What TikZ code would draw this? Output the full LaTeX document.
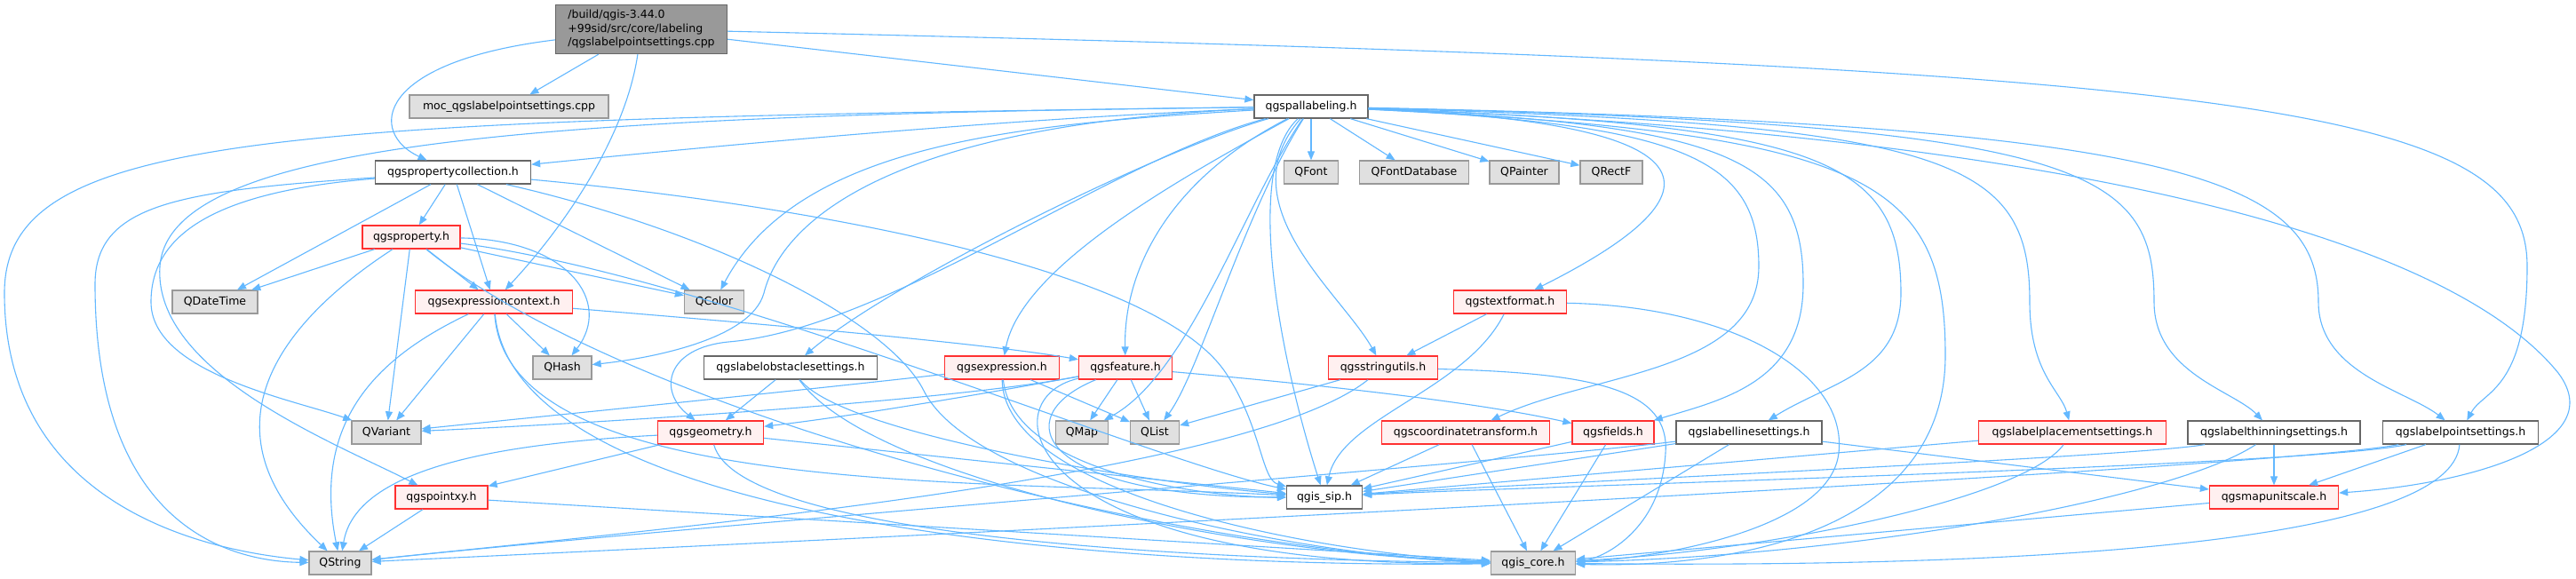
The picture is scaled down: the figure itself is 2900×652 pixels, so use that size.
\documentclass[tikz,border=0pt]{standalone}
\usepackage{fontspec}
\setmainfont{DejaVu Sans}
\usetikzlibrary{arrows.meta}
\definecolor{edgec}{HTML}{63B8FF}
\definecolor{extfill}{HTML}{E0E0E0}
\definecolor{extdraw}{HTML}{999999}
\definecolor{redfill}{HTML}{FFF0F0}
\definecolor{reddraw}{HTML}{FF3030}
\definecolor{normdraw}{HTML}{666666}
\definecolor{rootfill}{HTML}{999999}
\newcommand{\nodefont}{\fontsize{12.5}{15.5}\selectfont}
\begin{document}
\begin{tikzpicture}[x=1pt,y=-1pt,
  nbase/.style={rectangle, minimum height=26pt, inner sep=0pt, line width=1.3pt, font=\nodefont},
  nwhite/.style={nbase, draw=normdraw, fill=white},
  ngray/.style={nbase, draw=extdraw, fill=extfill},
  nred/.style={nbase, draw=reddraw, fill=redfill},
  rootbox/.style={nbase, draw=normdraw, fill=rootfill, align=left, minimum height=55pt},
  bw/.style={minimum width=#1pt},
  dep/.style={draw=edgec, line width=1.1pt, -{Triangle[length=10pt,width=8pt]}}
]
\fill[white] (0,0) rectangle (2900,652);
\useasboundingbox (0,0) rectangle (2900,652);

% nodes
\node[rootbox, bw=193] (root) at (722,33) {/build/qgis-3.44.0\\+99sid/src/core/labeling\\/qgslabelpointsettings.cpp};
\node[ngray, bw=224] (moc) at (573,120) {moc\_qgslabelpointsettings.cpp};
\node[nwhite, bw=128] (pal) at (1476,120) {qgspallabeling.h};
\node[nwhite, bw=175] (pc) at (510,194) {qgspropertycollection.h};
\node[ngray, bw=61] (QFont) at (1476,194) {QFont};
\node[ngray, bw=123] (QFontDB) at (1592,194) {QFontDatabase};
\node[ngray, bw=78] (QPainter) at (1716,194) {QPainter};
\node[ngray, bw=70] (QRectF) at (1814,194) {QRectF};
\node[nred, bw=110] (prop) at (463,267) {qgsproperty.h};
\node[ngray, bw=96] (QDateTime) at (242,340) {QDateTime};
\node[nred, bw=177] (ectx) at (556,340) {qgsexpressioncontext.h};
\node[ngray, bw=67] (QColor) at (804,340) {QColor};
\node[nred, bw=127] (tf) at (1700,340) {qgstextformat.h};
\node[ngray, bw=66] (QHash) at (633,414) {QHash};
\node[nwhite, bw=195] (obs) at (890,414) {qgslabelobstaclesettings.h};
\node[nred, bw=129] (expr) at (1128,414) {qgsexpression.h};
\node[nred, bw=105] (feat) at (1267,414) {qgsfeature.h};
\node[nred, bw=123] (su) at (1557,414) {qgsstringutils.h};
\node[ngray, bw=78] (QVariant) at (435,487) {QVariant};
\node[nred, bw=119] (geom) at (800,487) {qgsgeometry.h};
\node[ngray, bw=59] (QMap) at (1218,487) {QMap};
\node[ngray, bw=55] (QList) at (1300,487) {QList};
\node[nred, bw=189] (ct) at (1650,487) {qgscoordinatetransform.h};
\node[nred, bw=92] (fields) at (1816,487) {qgsfields.h};
\node[nwhite, bw=164] (ls) at (1969,487) {qgslabellinesettings.h};
\node[nred, bw=211] (lp) at (2333,487) {qgslabelplacementsettings.h};
\node[nwhite, bw=194] (lt) at (2560,487) {qgslabelthinningsettings.h};
\node[nwhite, bw=175] (lps) at (2770,487) {qgslabelpointsettings.h};
\node[nred, bw=104] (pxy) at (497,560) {qgspointxy.h};
\node[nwhite, bw=85] (sip) at (1491,560) {qgis\_sip.h};
\node[nred, bw=145] (mus) at (2560,560) {qgsmapunitscale.h};
\node[ngray, bw=70] (QString) at (383,634) {QString};
\node[ngray, bw=95] (core) at (1726,634) {qgis\_core.h};

% root
\draw[dep] (root) -- (moc);
\draw[dep] (root) .. controls (420,70) and (415,150) .. (pc);
\draw[dep] (root) -- (pal);
\draw[dep] (root) .. controls (705,150) and (640,250) .. (ectx);
\draw[dep] (root) .. controls (2550,75) and (2845,120) .. (2845,300) .. controls (2845,440) and (2795,440) .. (lps);

% qgspallabeling.h
\draw[dep] (pal) -- (QFont);
\draw[dep] (pal) -- (QFontDB);
\draw[dep] (pal) -- (QPainter);
\draw[dep] (pal) -- (QRectF);
\draw[dep] (pal) .. controls (1100,135) and (750,170) .. (pc);
\draw[dep] (pal) .. controls (300,135) and (5,150) .. (5,330) .. controls (5,580) and (250,622) .. (QString);
\draw[dep] (pal) .. controls (600,130) and (190,160) .. (180,300) .. controls (172,420) and (380,500) .. (pxy);
\draw[dep] (pal) .. controls (1150,140) and (900,160) .. (QColor);
\draw[dep] (pal) .. controls (1000,140) and (880,250) .. (860,330) .. controls (845,385) and (720,405) .. (QHash);
\draw[dep] (pal) .. controls (1300,170) and (1000,320) .. (obs);
\draw[dep] (pal) .. controls (1330,200) and (1150,300) .. (expr);
\draw[dep] (pal) .. controls (1320,200) and (1265,300) .. (feat);
\draw[dep] (pal) .. controls (1250,180) and (1000,370) .. (820,385) .. controls (750,392) and (740,440) .. (geom);
\draw[dep] (pal) .. controls (1400,230) and (1340,420) .. (QMap);
\draw[dep] (pal) .. controls (1400,240) and (1350,420) .. (QList);
\draw[dep] (pal) .. controls (1380,230) and (1510,330) .. (su);
\draw[dep] (pal) .. controls (2000,140) and (1900,240) .. (tf);
\draw[dep] (pal) .. controls (1400,190) and (1440,400) .. (sip);
\draw[dep] (pal) .. controls (2100,150) and (2190,200) .. (2190,400) .. controls (2190,600) and (1950,640) .. (core);
\draw[dep] (pal) .. controls (1900,140) and (1980,180) .. (1980,300) .. controls (1980,420) and (1790,420) .. (ct);
\draw[dep] (pal) .. controls (1950,140) and (2030,180) .. (2030,320) .. controls (2030,430) and (1940,450) .. (fields);
\draw[dep] (pal) .. controls (2050,140) and (2140,180) .. (2140,330) .. controls (2140,420) and (2060,430) .. (ls);
\draw[dep] (pal) .. controls (2200,140) and (2285,180) .. (2285,340) .. controls (2285,420) and (2320,440) .. (lp);
\draw[dep] (pal) .. controls (2350,140) and (2425,190) .. (2425,340) .. controls (2425,420) and (2515,440) .. (lt);
\draw[dep] (pal) .. controls (2450,140) and (2610,200) .. (2610,340) .. controls (2610,420) and (2710,440) .. (lps);
\draw[dep] (pal) .. controls (2300,150) and (2750,260) .. (2880,420) .. controls (2940,500) and (2780,545) .. (mus);

% qgspropertycollection.h
\draw[dep] (pc) -- (prop);
\draw[dep] (pc) -- (QDateTime);
\draw[dep] (pc) -- (ectx);
\draw[dep] (pc) -- (QColor);
\draw[dep] (pc) .. controls (250,215) and (170,260) .. (170,340) .. controls (170,420) and (330,450) .. (QVariant);
\draw[dep] (pc) .. controls (200,215) and (107,230) .. (107,320) .. controls (107,585) and (250,632) .. (QString);
\draw[dep] (pc) .. controls (900,230) and (1300,300) .. (1380,420) .. controls (1420,480) and (1420,540) .. (sip);
\draw[dep] (pc) .. controls (800,260) and (1000,360) .. (1040,440) .. controls (1100,560) and (1500,630) .. (core);

% qgsproperty.h
\draw[dep] (prop) -- (QDateTime);
\draw[dep] (prop) -- (ectx);
\draw[dep] (prop) -- (QColor);
\draw[dep] (prop) .. controls (640,270) and (690,340) .. (QHash);
\draw[dep] (prop) -- (QVariant);
\draw[dep] (prop) .. controls (320,360) and (220,480) .. (QString);
\draw[dep] (prop) .. controls (800,310) and (1300,520) .. (sip);
\draw[dep] (prop) .. controls (700,460) and (1300,620) .. (core);

% qgsexpressioncontext.h
\draw[dep] (ectx) .. controls (800,360) and (1100,385) .. (feat);
\draw[dep] (ectx) -- (QHash);
\draw[dep] (ectx) -- (QVariant);
\draw[dep] (ectx) .. controls (430,400) and (350,470) .. (QString);
\draw[dep] (ectx) .. controls (570,560) and (1100,540) .. (sip);
\draw[dep] (ectx) .. controls (580,600) and (1300,640) .. (core);

% qgslabelobstaclesettings.h
\draw[dep] (obs) -- (geom);
\draw[dep] (obs) .. controls (950,490) and (1300,545) .. (sip);
\draw[dep] (obs) .. controls (980,540) and (1400,625) .. (core);

% qgsexpression.h
\draw[dep] (expr) .. controls (900,440) and (600,470) .. (QVariant);
\draw[dep] (expr) -- (QList);
\draw[dep] (expr) .. controls (1140,530) and (1350,560) .. (sip);
\draw[dep] (expr) .. controls (1130,560) and (1500,625) .. (core);

% qgsfeature.h
\draw[dep] (feat) .. controls (1050,455) and (600,480) .. (QVariant);
\draw[dep] (feat) -- (QMap);
\draw[dep] (feat) -- (QList);
\draw[dep] (feat) .. controls (1100,445) and (950,470) .. (geom);
\draw[dep] (feat) .. controls (1450,430) and (1650,450) .. (fields);
\draw[dep] (feat) .. controls (1130,470) and (1170,560) .. (sip);
\draw[dep] (feat) .. controls (1110,450) and (1150,640) .. (core);

% qgsstringutils.h
\draw[dep] (su) -- (QList);
\draw[dep] (su) .. controls (1400,540) and (700,600) .. (QString);
\draw[dep] (su) .. controls (1800,420) and (1880,440) .. (1875,510) .. controls (1870,600) and (1800,630) .. (core);

% qgstextformat.h
\draw[dep] (tf) -- (su);
\draw[dep] (tf) .. controls (1650,440) and (1510,470) .. (sip);
\draw[dep] (tf) .. controls (1950,345) and (2080,420) .. (2070,510) .. controls (2060,600) and (1850,630) .. (core);

% qgsgeometry.h
\draw[dep] (geom) .. controls (550,500) and (400,530) .. (QString);
\draw[dep] (geom) -- (pxy);
\draw[dep] (geom) -- (sip);
\draw[dep] (geom) .. controls (830,600) and (1300,630) .. (core);

% qgspointxy.h
\draw[dep] (pxy) -- (QString);
\draw[dep] (pxy) -- (core);

% qgscoordinatetransform.h, qgsfields.h
\draw[dep] (ct) -- (sip);
\draw[dep] (ct) -- (core);
\draw[dep] (fields) -- (sip);
\draw[dep] (fields) -- (core);

% qgslabellinesettings.h
\draw[dep] (ls) -- (sip);
\draw[dep] (ls) -- (core);
\draw[dep] (ls) .. controls (1700,520) and (800,590) .. (QString);
\draw[dep] (ls) -- (mus);

% qgslabelplacementsettings.h
\draw[dep] (lp) -- (sip);
\draw[dep] (lp) .. controls (2280,560) and (2000,620) .. (core);

% qgslabelthinningsettings.h
\draw[dep] (lt) -- (mus);
\draw[dep] (lt) .. controls (2400,515) and (1700,545) .. (sip);
\draw[dep] (lt) .. controls (2450,560) and (2100,625) .. (core);

% qgslabelpointsettings.h
\draw[dep] (lps) -- (mus);
\draw[dep] (lps) .. controls (2600,525) and (1700,548) .. (sip);
\draw[dep] (lps) .. controls (2550,530) and (900,610) .. (QString);
\draw[dep] (lps) .. controls (2760,610) and (2300,640) .. (core);

% qgsmapunitscale.h
\draw[dep] (mus) -- (core);
\end{tikzpicture}
\end{document}
